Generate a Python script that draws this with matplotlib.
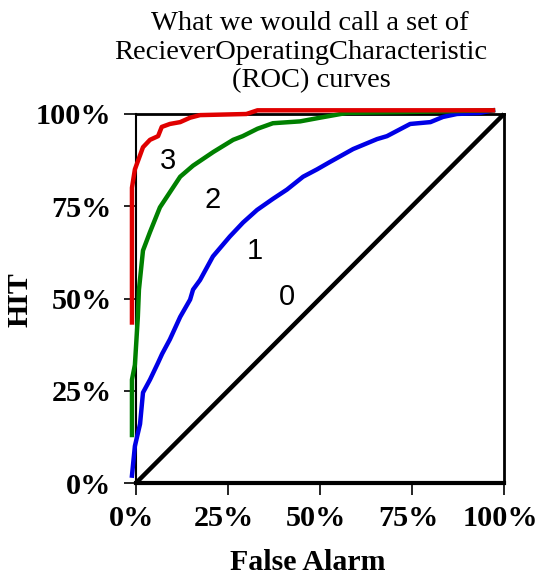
import matplotlib
matplotlib.use('agg')
from matplotlib import pyplot as plt
import matplotlib.transforms as mtransforms
from matplotlib.ticker import FixedLocator, FixedFormatter

# curve 0: chance line
x0 = [0.0, 1.0]
y0 = [0.0, 1.0]

# curve 1 (blue)
x1 = [-0.011, -0.003, 0.011, 0.019, 0.038, 0.06, 0.071, 0.092, 0.12, 0.147, 0.155, 0.174,
      0.209, 0.255, 0.291, 0.329, 0.372, 0.41, 0.454, 0.492, 0.527, 0.59, 0.655, 0.682,
      0.745, 0.80, 0.834, 0.872, 0.935, 0.97]
y1 = [0.02, 0.10, 0.16, 0.245, 0.28, 0.326, 0.35, 0.389, 0.45, 0.497, 0.524, 0.55,
      0.614, 0.668, 0.706, 0.74, 0.77, 0.795, 0.83, 0.85, 0.87, 0.905, 0.932, 0.94,
      0.973, 0.978, 0.992, 1.0, 1.003, 1.01]

# curve 2 (green)
x2 = [-0.011, -0.011, -0.003, 0.005, 0.008, 0.019, 0.038, 0.065, 0.12, 0.155, 0.21,
      0.264, 0.29, 0.33, 0.372, 0.446, 0.5, 0.573, 0.717, 0.97]
y2 = [0.13, 0.28, 0.32, 0.45, 0.524, 0.63, 0.68, 0.747, 0.83, 0.86, 0.897,
      0.93, 0.94, 0.96, 0.975, 0.98, 0.99, 1.003, 1.005, 1.01]

# curve 3 (red)
x3 = [-0.011, -0.011, -0.003, 0.019, 0.038, 0.06, 0.07, 0.092, 0.12, 0.147, 0.174,
      0.30, 0.33, 0.97]
y3 = [0.435, 0.80, 0.85, 0.91, 0.93, 0.94, 0.965, 0.973, 0.978, 0.99, 0.997,
      1.0, 1.01, 1.01]

ticks = [0.0, 0.25, 0.5, 0.75, 1.0]
tick_labels = ['0%', '25%', '50%', '75%', '100%']

curve_names = ['0', '1', '2', '3']
name_x = [0.41, 0.323, 0.209, 0.087]
name_y = [0.505, 0.629, 0.766, 0.872]

title_lines = ['What we would call a set of',
               'RecieverOperatingCharacteristic',
               '(ROC) curves']

SERIF = ['Liberation Serif', 'DejaVu Serif']
SANS = ['Liberation Sans', 'DejaVu Sans']

fig = plt.figure(figsize=(5.41, 5.79), dpi=100)
ax = fig.add_axes([136 / 541, 96 / 579, 368 / 541, 369 / 579])

ax.plot(x0, y0, color='black', lw=3.2, clip_on=False, solid_capstyle='butt', zorder=3)
ax.plot(x1, y1, color='#0000e6', lw=3.2, clip_on=False, zorder=4)
ax.plot(x2, y2, color='#008000', lw=3.2, clip_on=False, zorder=5)
ax.plot(x3, y3, color='#e00000', lw=3.2, clip_on=False, zorder=6)

for name, tx, ty in zip(curve_names, name_x, name_y):
    ax.text(tx, ty, name, fontsize=21, family=SANS, ha='center', va='center')

ax.set_xlim(0, 1)
ax.set_ylim(0, 1)
ax.xaxis.set_major_locator(FixedLocator(ticks))
ax.xaxis.set_major_formatter(FixedFormatter(tick_labels))
ax.yaxis.set_major_locator(FixedLocator(ticks))
ax.yaxis.set_major_formatter(FixedFormatter(tick_labels))
ax.tick_params(axis='both', direction='out', length=8.5, width=1.2, color='black')
ax.tick_params(axis='x', pad=7)
ax.tick_params(axis='y', pad=9)
for lab in ax.get_xticklabels() + ax.get_yticklabels():
    lab.set_family(SERIF)
    lab.set_fontweight('bold')
    lab.set_fontsize(21.8)
shift = mtransforms.ScaledTranslation(-4 / 100, 0, fig.dpi_scale_trans)
for lab in ax.get_xticklabels():
    lab.set_transform(lab.get_transform() + shift)

for side, w in [('left', 1.5), ('top', 2.0), ('right', 2.0), ('bottom', 3.0)]:
    ax.spines[side].set_linewidth(w)
    ax.spines[side].set_color('black')

fig.text(308 / 541, 1 - 563 / 579, 'False Alarm', family=SERIF, fontweight='bold',
         fontsize=21.5, ha='center', va='center')
fig.text(20 / 541, 1 - 300 / 579, 'HIT', family=SERIF, fontweight='bold',
         fontsize=21.5, ha='center', va='center', rotation=90)

title_x = [310, 301, 311]
title_base = [30, 59, 87]
for line, tx, tb in zip(title_lines, title_x, title_base):
    fig.text(tx / 541, 1 - tb / 579, line, family=SERIF, fontsize=20.5,
             ha='center', va='baseline')

fig.savefig('out.png', dpi=100)
